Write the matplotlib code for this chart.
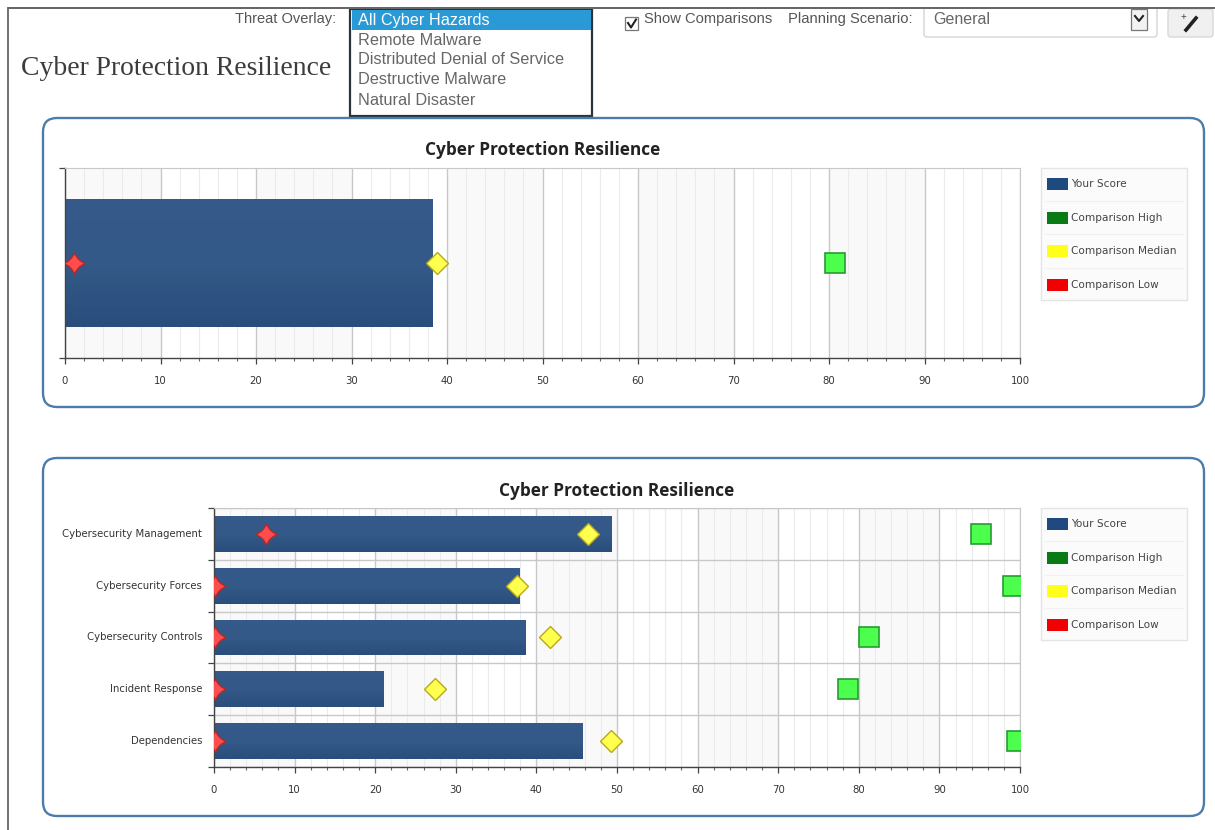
import numpy as np
import matplotlib
matplotlib.use("Agg")
import matplotlib.pyplot as plt
from matplotlib.patches import FancyBboxPatch, Rectangle
from matplotlib.path import Path
from matplotlib.colors import LinearSegmentedColormap

W, H = 1215, 830
page_title = "Cyber Protection Resilience"
chart_title = "Cyber Protection Resilience"
threats = ["All Cyber Hazards", "Remote Malware", "Distributed Denial of Service",
           "Destructive Malware", "Natural Disaster"]
legend_names = ["Your Score", "Comparison High", "Comparison Median", "Comparison Low"]
legend_colors = ["#1f4a7f", "#0a7a14", "#ffff1a", "#f00000"]

overall_score = [38.5]
overall_low = [0.9]
overall_median = [39.0]
overall_high = [80.6]

categories = ["Cybersecurity Management", "Cybersecurity Forces", "Cybersecurity Controls",
              "Incident Response", "Dependencies"]
scores = [49.3, 37.9, 38.7, 21.0, 45.7]
lows = [6.5, 0.1, 0.1, 0.1, 0.1]
medians = [46.4, 37.6, 41.7, 27.4, 49.3]
highs = [95.2, 99.1, 81.3, 78.7, 99.6]

tick_font = "DejaVu Sans"
ui_font = "Liberation Sans"
star = Path([(0, 1), (0.28, 0.28), (1, 0), (0.28, -0.28), (0, -1), (-0.28, -0.28), (-1, 0), (-0.28, 0.28), (0, 1)],
            [Path.MOVETO] + [Path.CURVE3, Path.CURVE3] * 4)
bar_cmap = LinearSegmentedColormap.from_list("bar", ["#36598a", "#335a88", "#2a4d7c"])

fig = plt.figure(figsize=(W / 100, H / 100), dpi=100, facecolor="white")

def px_axes(x0, y0, x1, y1, **kw):
    return fig.add_axes([x0 / W, 1 - y1 / H, (x1 - x0) / W, (y1 - y0) / H], **kw)

bg = fig.add_axes([0, 0, 1, 1])
bg.set_xlim(0, W)
bg.set_ylim(H, 0)
bg.axis("off")

# page frame
bg.plot([7.5, 7.5, W], [H, 8, 8], color="#666666", lw=1.3)
bg.text(21, 68.5, page_title, family="Liberation Serif", fontsize=19.9, color="#3c3c3c", va="center")

# toolbar
bg.text(336, 18.5, "Threat Overlay:", family=ui_font, fontsize=10.5, color="#555555", ha="right", va="center")
bg.add_patch(Rectangle((350, 9), 242, 107, fc="white", ec="#28343c", lw=1.6))
bg.add_patch(Rectangle((351.5, 10), 239, 20, fc="#2a9ad6", ec="none"))
for name, y, c in zip(threats, [20, 40.5, 60, 79.5, 100.5], ["white"] + ["#666666"] * 4):
    bg.text(358, y, name, family=ui_font, fontsize=11.7, color=c, va="center")

bg.add_patch(Rectangle((625, 17), 13, 13, fc="white", ec="#777777", lw=0.9))
bg.plot([628, 631, 636], [23, 27.5, 19.5], color="#222222", lw=1.5)
bg.text(644, 19.5, "Show Comparisons", family=ui_font, fontsize=10.6, color="#555555", va="center")
bg.text(788, 19.5, "Planning Scenario:", family=ui_font, fontsize=10.6, color="#555555", va="center")
bg.add_patch(FancyBboxPatch((924, 4), 233, 33, boxstyle="round,pad=0,rounding_size=3", fc="white", ec="#d4d4d4", lw=1))
bg.add_patch(Rectangle((0, 0), W, 8.6, fc="white", ec="none", zorder=1.5))
bg.plot([7.5, W], [8, 8], color="#666666", lw=1.3, zorder=2)
bg.text(933, 20, "General", family=ui_font, fontsize=11.5, color="#666666", va="center")
bg.add_patch(Rectangle((1131, 9), 16, 21, fc="#f2f2f2", ec="#777777", lw=0.9))
bg.plot([1135, 1139, 1143], [16, 21, 16], color="#222222", lw=1.5)
bg.add_patch(FancyBboxPatch((1168, 9), 45, 28, boxstyle="round,pad=0,rounding_size=3", fc="#f0f0f0", ec="#d8d8d8", lw=1, zorder=1))
bg.plot([1186, 1196], [30, 18], color="#222222", lw=2.6, zorder=3)
bg.text(1183, 17, "+", family=ui_font, fontsize=7, color="#444444", ha="center", va="center", zorder=3)

# panels
for y0, y1 in [(118, 407), (458, 816)]:
    bg.add_patch(FancyBboxPatch((43, y0), 1161, y1 - y0, boxstyle="round,pad=0,rounding_size=14",
                                fc="white", ec="#4d7cab", lw=1.7))

# legends
for top in [168, 508]:
    bg.add_patch(Rectangle((1041, top), 146, 132, fc="#fbfbfb", ec="#e4e4e4", lw=1))
    for i, (name, col) in enumerate(zip(legend_names, legend_colors)):
        yc = top + 16 + 33.5 * i
        bg.add_patch(Rectangle((1047, yc - 6), 21, 12, fc=col, ec="none"))
        bg.text(1071, yc, name, family=tick_font, fontsize=7.6, color="#444444", va="center")
        if i < 3:
            bg.plot([1045, 1183], [yc + 17, yc + 17], color="#f0f0f0", lw=0.8)


def draw_chart(ax, labels, score, low, median, high, bar_h, title_pad):
    y = np.arange(len(score))
    ax.set_xlim(0, 100)
    ax.set_ylim(len(score) - 0.5, -0.5)
    for b in range(0, 100, 20):
        ax.axvspan(b, b + 10, color="#f9f9f9", zorder=0, lw=0)
    ax.set_xticks(np.arange(0, 101, 10))
    ax.set_xticks(np.arange(0, 101, 2), minor=True)
    ax.grid(axis="x", which="major", color="#c8c8c8", lw=1.0, zorder=1)
    ax.grid(axis="x", which="minor", color="#ebebeb", lw=0.8, zorder=1)
    ax.set_axisbelow(True)
    ax.set_yticks(np.arange(-0.5, len(score)))
    ax.set_yticklabels([])
    ax.tick_params(axis="y", length=4.5, width=0.9, color="#444444")
    ax.tick_params(axis="x", which="major", length=4, width=0.9, color="#444444",
                   labelsize=7.3, labelcolor="#333333", pad=8.6)
    ax.tick_params(axis="x", which="minor", length=2.5, width=0.8, color="#666666")
    for lab in ax.get_xticklabels():
        lab.set_family(tick_font)
    if len(score) > 1:
        ax.grid(axis="y", color="#c8c8c8", lw=1.0, zorder=1)
        for yi, name in zip(y, labels):
            ax.annotate(name, (0, yi), xytext=(-8.6, 0), textcoords="offset points", ha="right", va="center",
                        family=tick_font, fontsize=7.3, color="#333333", annotation_clip=False)
    bars = ax.barh(y, score, height=bar_h, color="#30568a", zorder=2)
    grad = np.linspace(0, 1, 64)[:, None]
    for b in bars:
        im = ax.imshow(grad, cmap=bar_cmap, aspect="auto", zorder=2.1,
                       extent=(0, b.get_width(), b.get_y() + b.get_height(), b.get_y()))
        im.set_clip_path(b)
    ax.set_xlim(0, 100)
    ax.set_ylim(len(score) - 0.5, -0.5)
    ax.plot(low, y, ls="none", marker=star, ms=15.5, mfc="#ff4d4d", mec="#b02a2a", mew=1, zorder=4)
    ax.plot(median, y, ls="none", marker="D", ms=11, mfc="#ffff4d", mec="#b8a820", mew=1, zorder=5)
    ax.plot(high, y, ls="none", marker="s", ms=14.5, mfc="#4dff4d", mec="#2a9a35", mew=1.2, zorder=6)
    for s in ["top", "right"]:
        ax.spines[s].set_color("#c8c8c8")
    for s in ["left", "bottom"]:
        ax.spines[s].set_color("#444444")
        ax.spines[s].set_linewidth(1)
    ax.set_title(chart_title, family="Open Sans", weight="bold", fontsize=12.4, color="#222222", pad=title_pad)


ax1 = px_axes(65, 168, 1020, 358)
ax1.set_facecolor("white")
draw_chart(ax1, [page_title], overall_score, overall_low, overall_median, overall_high, 0.67, 9.5)

ax2 = px_axes(214, 508, 1020, 767)
ax2.set_facecolor("white")
draw_chart(ax2, categories, scores, lows, medians, highs, 0.69, 8.5)

fig.savefig("out.png", dpi=100)
